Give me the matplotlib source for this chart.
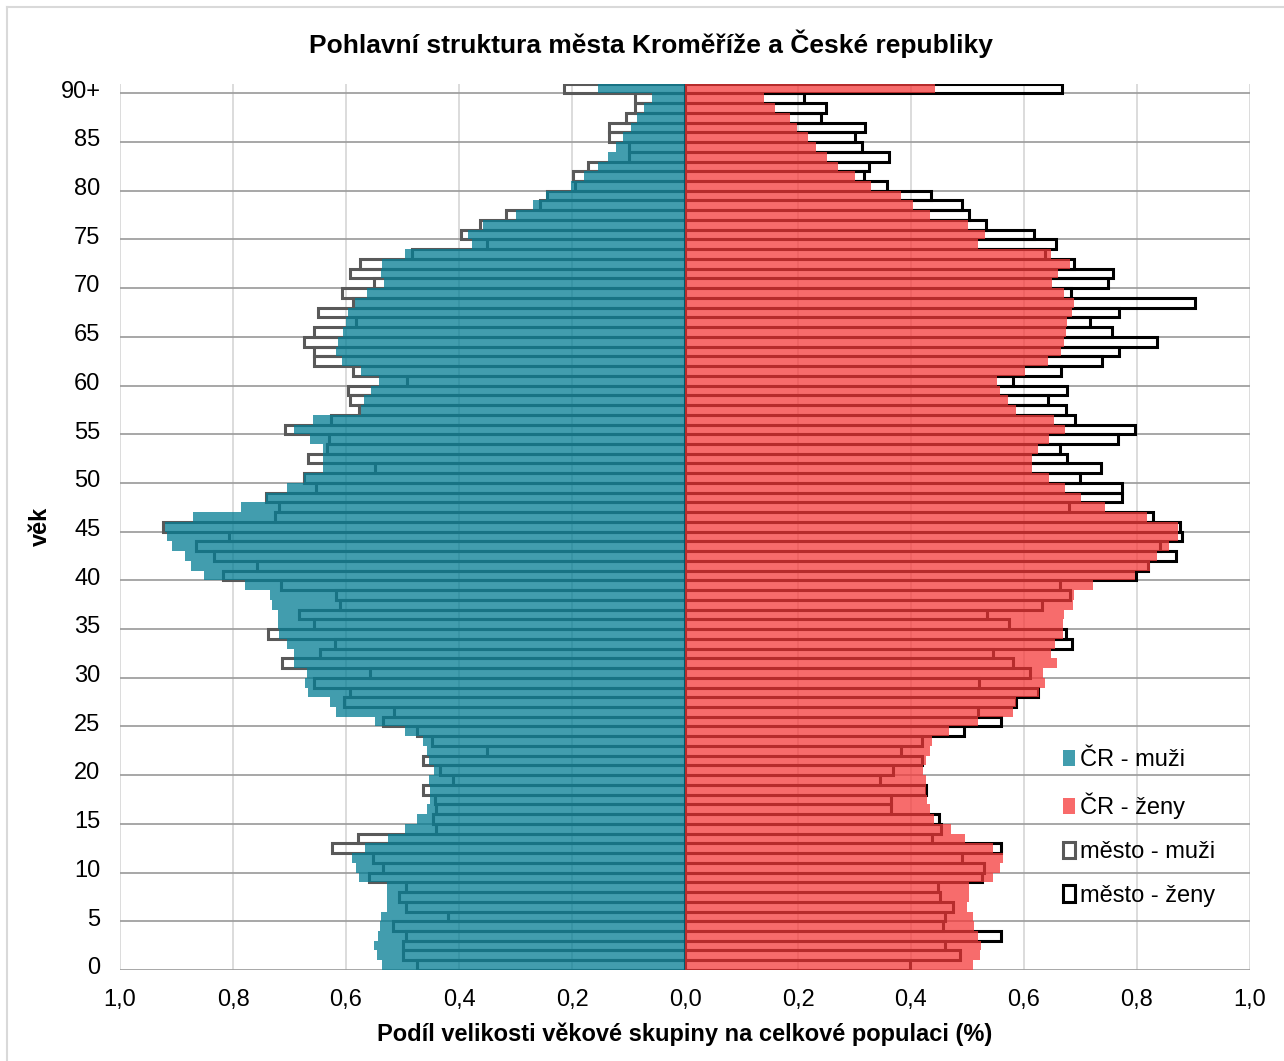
import numpy as np
import matplotlib
matplotlib.use('Agg')
import matplotlib.pyplot as plt
import matplotlib.transforms as mtransforms
from matplotlib.patches import Patch

plt.rcParams['font.family'] = ['Liberation Sans', 'DejaVu Sans']

# age groups 0..90+, share of the whole population (%)
ages = list(range(91))
age_ticks = list(range(0, 91, 5))
age_labels = [str(a) for a in age_ticks[:-1]] + ['90+']

cr_muzi = [0.536, 0.546, 0.551, 0.544, 0.540, 0.538, 0.527, 0.527, 0.528, 0.577,
           0.582, 0.590, 0.567, 0.526, 0.495, 0.475, 0.456, 0.452, 0.452, 0.454,
           0.445, 0.454, 0.457, 0.464, 0.495, 0.548, 0.618, 0.628, 0.668, 0.673,
           0.669, 0.692, 0.692, 0.705, 0.718, 0.720, 0.720, 0.731, 0.734, 0.778,
           0.852, 0.875, 0.885, 0.908, 0.917, 0.921, 0.871, 0.786, 0.741, 0.705,
           0.674, 0.640, 0.640, 0.641, 0.664, 0.692, 0.659, 0.574, 0.569, 0.555,
           0.541, 0.574, 0.607, 0.617, 0.614, 0.605, 0.600, 0.597, 0.584, 0.563,
           0.533, 0.538, 0.536, 0.495, 0.377, 0.384, 0.357, 0.300, 0.269, 0.246,
           0.202, 0.178, 0.154, 0.136, 0.123, 0.110, 0.096, 0.085, 0.072, 0.059,
           0.154]
cr_zeny = [0.509, 0.522, 0.524, 0.518, 0.512, 0.509, 0.499, 0.503, 0.503, 0.545,
           0.558, 0.563, 0.545, 0.496, 0.470, 0.440, 0.433, 0.429, 0.427, 0.426,
           0.422, 0.426, 0.434, 0.437, 0.467, 0.519, 0.581, 0.586, 0.627, 0.637,
           0.634, 0.658, 0.647, 0.655, 0.669, 0.669, 0.671, 0.686, 0.688, 0.722,
           0.797, 0.823, 0.836, 0.856, 0.872, 0.873, 0.817, 0.743, 0.701, 0.673,
           0.645, 0.615, 0.615, 0.624, 0.645, 0.673, 0.653, 0.586, 0.571, 0.557,
           0.552, 0.601, 0.642, 0.666, 0.671, 0.675, 0.676, 0.685, 0.689, 0.671,
           0.649, 0.660, 0.681, 0.647, 0.518, 0.531, 0.501, 0.434, 0.404, 0.382,
           0.329, 0.301, 0.270, 0.252, 0.232, 0.218, 0.198, 0.185, 0.160, 0.139,
           0.442]
mesto_muzi = [0.475, 0.500, 0.500, 0.493, 0.517, 0.420, 0.493, 0.506, 0.493, 0.559,
              0.534, 0.552, 0.625, 0.579, 0.441, 0.446, 0.441, 0.443, 0.464, 0.411,
              0.433, 0.464, 0.351, 0.447, 0.475, 0.534, 0.515, 0.603, 0.593, 0.657,
              0.557, 0.713, 0.646, 0.620, 0.738, 0.657, 0.684, 0.610, 0.618, 0.716,
              0.818, 0.757, 0.834, 0.866, 0.807, 0.924, 0.726, 0.719, 0.741, 0.654,
              0.675, 0.548, 0.667, 0.633, 0.630, 0.708, 0.626, 0.577, 0.593, 0.597,
              0.492, 0.587, 0.657, 0.657, 0.674, 0.657, 0.582, 0.649, 0.587, 0.607,
              0.551, 0.593, 0.576, 0.483, 0.350, 0.397, 0.363, 0.317, 0.256, 0.245,
              0.195, 0.198, 0.172, 0.100, 0.100, 0.134, 0.134, 0.104, 0.089, 0.089,
              0.214]
mesto_zeny = [0.398, 0.486, 0.460, 0.560, 0.457, 0.461, 0.474, 0.452, 0.447, 0.526,
              0.529, 0.490, 0.560, 0.437, 0.453, 0.450, 0.364, 0.365, 0.426, 0.346,
              0.368, 0.420, 0.382, 0.420, 0.493, 0.560, 0.518, 0.586, 0.625, 0.520,
              0.611, 0.581, 0.545, 0.685, 0.674, 0.573, 0.534, 0.632, 0.681, 0.663,
              0.798, 0.819, 0.869, 0.840, 0.880, 0.876, 0.828, 0.679, 0.774, 0.774,
              0.699, 0.736, 0.677, 0.663, 0.766, 0.797, 0.691, 0.674, 0.643, 0.677,
              0.580, 0.666, 0.738, 0.768, 0.836, 0.755, 0.717, 0.768, 0.902, 0.683,
              0.748, 0.758, 0.688, 0.637, 0.656, 0.617, 0.533, 0.503, 0.490, 0.436,
              0.357, 0.316, 0.325, 0.361, 0.314, 0.300, 0.318, 0.241, 0.249, 0.210,
              0.668]

TEAL = '#027c93'
SALMON = '#f53b3b'
ALPHA = 0.75

fig = plt.figure(figsize=(12.84, 10.61), dpi=100)
ax = fig.add_axes([0.0935, 0.0858, 0.88, 0.8354])

y = np.array(ages) + 0.5

# city bars only as outlines, behind the semi-transparent CR bars
ax.barh(y, -np.array(mesto_muzi), height=1.0, facecolor='none',
        edgecolor='#595959', linewidth=2.2, zorder=2)
ax.barh(y, mesto_zeny, height=1.0, facecolor='none',
        edgecolor='black', linewidth=2.2, zorder=2)
ax.barh(y, -np.array(cr_muzi), height=1.0, color=TEAL, alpha=ALPHA,
        linewidth=0, zorder=3)
ax.barh(y, cr_zeny, height=1.0, color=SALMON, alpha=ALPHA,
        linewidth=0, zorder=3)

ax.set_xlim(-1.0, 1.0)
ax.set_ylim(0, 91)

xt = np.round(np.arange(-1.0, 1.01, 0.2), 1)
ax.set_xticks(xt)
ax.set_xticklabels([f'{abs(v):.1f}'.replace('.', ',') for v in xt], fontsize=17)
ax.set_yticks(age_ticks)
ax.set_yticklabels(age_labels, fontsize=17)
ax.tick_params(length=0)
ax.tick_params(axis='y', pad=14)
ax.tick_params(axis='x', pad=14)
# age labels sit a little above their gridline
shift = mtransforms.ScaledTranslation(0, 3 / 72, fig.dpi_scale_trans)
for lab in ax.get_yticklabels():
    lab.set_transform(lab.get_transform() + shift)

# grid: light vertical, darker horizontal
for v in xt:
    ax.axvline(v, color='#d9d9d9', linewidth=1.3, zorder=0)
for a in age_ticks:
    ax.axhline(a, color='#a0a0a0', linewidth=1.3, zorder=0)

for s in ax.spines.values():
    s.set_visible(False)

fig.text(0.507, 0.959, 'Pohlavní struktura města Kroměříže a České republiky',
         fontsize=19, fontweight='bold', ha='center', va='center')
ax.set_xlabel('Podíl velikosti věkové skupiny na celkové populaci (%)',
              fontsize=17, fontweight='bold', labelpad=8)
ax.set_ylabel('věk', fontsize=17, fontweight='bold', labelpad=6)

handles = [Patch(facecolor='#419dae', edgecolor='none', label='ČR - muži'),
           Patch(facecolor='#f86a6a', edgecolor='none', label='ČR - ženy'),
           Patch(facecolor='white', edgecolor='#595959', linewidth=2.2, label='město - muži'),
           Patch(facecolor='white', edgecolor='black', linewidth=2.2, label='město - ženy')]
fig.legend(handles=handles, loc='upper left', bbox_to_anchor=(0.819, 0.305),
           frameon=False, fontsize=17, handlelength=0.5, handleheight=0.7,
           handletextpad=0.2, labelspacing=0.92, borderpad=0)

# light frame of the chart area
fig.add_artist(plt.Line2D([0.0055, 0.0055], [0, 0.9934], color='#d9d9d9',
                          linewidth=1.5, transform=fig.transFigure))
fig.add_artist(plt.Line2D([0.0055, 1.0], [0.9934, 0.9934], color='#d9d9d9',
                          linewidth=1.5, transform=fig.transFigure))

fig.savefig('out.png', dpi=100)
